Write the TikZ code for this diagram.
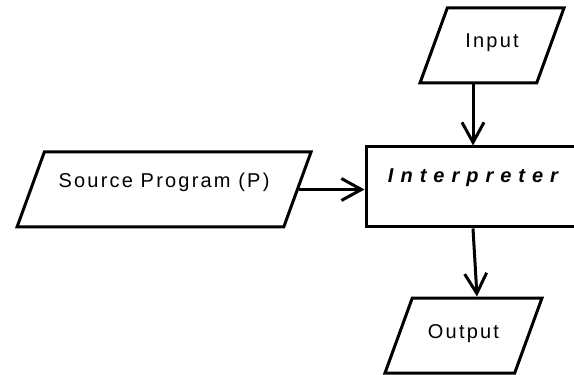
\documentclass[tikz,border=0pt]{standalone}
\usepackage{fontspec}
\setmainfont{Liberation Sans}[LetterSpace=11]
\newfontfamily\interpfont{Liberation Sans}[LetterSpace=35]
\usetikzlibrary{arrows.meta,shapes.geometric,positioning}

\begin{document}
\begin{tikzpicture}[x=1pt, y=1pt,
    line width=3pt,
    every node/.style={font=\fontsize{20pt}{22pt}\selectfont},
    io/.style={
        draw,
        trapezium,
        trapezium left angle=70,
        trapezium right angle=110,
        trapezium stretches body,
        text height=39.5pt,
        text depth=35.5pt,
        inner sep=0pt
    },
    proc/.style={
        draw,
        minimum width=214pt,
        minimum height=80pt,
        text height=14pt,
        text depth=22pt,
        inner sep=0pt
    },
    >={Straight Barb[length=20pt,width=22pt]}
]
\useasboundingbox[fill=white] (0,0) rectangle (574,375);
\node[proc] (interp) at (473,188) {\interpfont\bfseries\itshape Interpreter};
\node[io, minimum width=294pt, text height=36pt, text depth=39pt,
      left=65.5pt of interp, yshift=-2.5pt] (src) {Source Program (P)};
\node[io, minimum width=144pt, above=61pt of interp, xshift=19pt] (in) {Input};
\node[io, minimum width=157pt, text height=40.3pt, text depth=34.7pt,
      below=68pt of interp, xshift=-9.5pt] (out) {Output};
\draw[->] (src.east) -- (src.east -| interp.west);
\draw[->] (in.south -| interp.north) -- (interp.north);
\draw[->] (interp.south) -- ([xshift=13.5pt]out.north);
\end{tikzpicture}
\end{document}
